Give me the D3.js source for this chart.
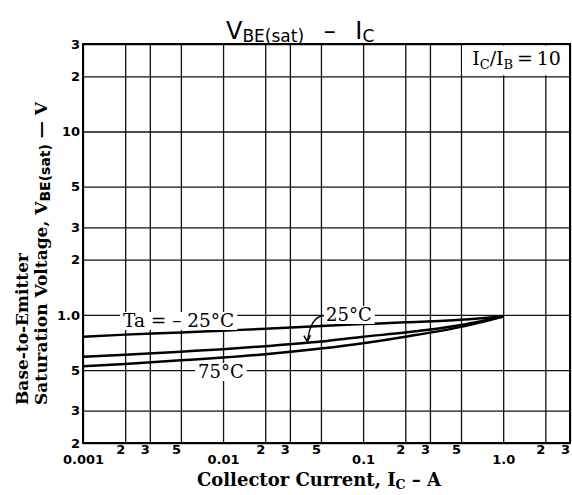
<!DOCTYPE html>
<html><head><meta charset="utf-8">
<script src="https://cdn.jsdelivr.net/npm/d3@7"></script>
<style>
body{margin:0;background:#fff;}
svg{display:block;}
</style></head>
<body>
<script>
// ---- data ----
const collectorCurrent = [0.001, 0.002, 0.005, 0.01, 0.02, 0.05, 0.1, 0.2, 0.5, 1.0];
const vbeMinus25 = [0.76, 0.78, 0.80, 0.82, 0.84, 0.87, 0.89, 0.91, 0.94, 0.98];
const vbe25      = [0.59, 0.605, 0.63, 0.65, 0.675, 0.715, 0.76, 0.80, 0.88, 0.98];
const vbe75      = [0.525, 0.54, 0.565, 0.585, 0.61, 0.655, 0.70, 0.76, 0.86, 0.98];
const seriesNames = ["Ta = \u2013 25\u00b0C", "25\u00b0C", "75\u00b0C"];

const xGridValues = [0.001,0.002,0.003,0.005,0.01,0.02,0.03,0.05,0.1,0.2,0.3,0.5,1,2,3];
const xMajorValues = [0.001, 0.01, 0.1, 1.0];
const xMajorLabels = ["0.001", "0.01", "0.1", "1.0"];
const xMinorValues = [0.002,0.003,0.005,0.02,0.03,0.05,0.2,0.3,0.5,2,3];
const xMinorLabels = ["2","3","5","2","3","5","2","3","5","2","3"];
const yTickValues = [30, 20, 10, 5, 3, 2, 1, 0.5, 0.3, 0.2];
const yTickLabels = ["3", "2", "10", "5", "3", "2", "1.0", "5", "3", "2"];

// ---- layout ----
const W = 572, H = 495;
const L = 83, R = 570, T = 44, B = 443;
const sans = "'DejaVu Sans', sans-serif";
const serif = "'DejaVu Serif', serif";

const svg = d3.select("body").append("svg").attr("width", W).attr("height", H);
const x = d3.scaleLog().domain([0.001, 3]).range([L, R]);
const y = d3.scaleLog().domain([0.2, 30]).range([B, T]);

// grid
const gx = svg.append("g").attr("transform", `translate(0,${B})`)
  .call(d3.axisBottom(x).tickValues(xGridValues).tickSize(-(B - T)).tickFormat(""));
gx.select(".domain").remove();
gx.selectAll("line").attr("stroke", "#111").attr("stroke-width", 1.3);
const gy = svg.append("g").attr("transform", `translate(${L},0)`)
  .call(d3.axisLeft(y).tickValues(yTickValues).tickSize(-(R - L)).tickFormat(""));
gy.select(".domain").remove();
gy.selectAll("line").attr("stroke", "#111").attr("stroke-width", 1.3);

// frame
svg.append("rect").attr("x", L).attr("y", T).attr("width", R - L).attr("height", B - T)
  .attr("fill", "none").attr("stroke", "#000").attr("stroke-width", 2);

// legend box (condition)
svg.append("rect").attr("x", x(0.5) + 1).attr("y", y(30) + 1.5)
  .attr("width", x(3) - x(0.5) - 2.5).attr("height", y(20) - y(30) - 2.5).attr("fill", "#fff");
const cond = svg.append("text").attr("x", (x(0.5) + x(3)) / 2 + 1).attr("y", y(30) + 21)
  .attr("text-anchor", "middle").attr("font-family", serif).attr("font-size", 19).attr("fill", "#000");
cond.append("tspan").text("I");
cond.append("tspan").attr("font-size", 13).attr("dy", 4).text("C");
cond.append("tspan").attr("dy", -4).text("/I");
cond.append("tspan").attr("font-size", 13).attr("dy", 4).text("B");
cond.append("tspan").attr("dy", -4).text("\u2009=\u200910");

// x tick labels
const xl = svg.append("g").attr("transform", `translate(0,${B})`)
  .call(d3.axisBottom(x).tickValues(xMajorValues).tickSize(0).tickPadding(12)
    .tickFormat((d, i) => xMajorLabels[i]));
xl.select(".domain").remove();
xl.selectAll("text").attr("font-family", sans).attr("font-size", 13).attr("font-weight", "bold").attr("fill", "#000");
const xm = svg.append("g").attr("transform", `translate(0,${B})`)
  .call(d3.axisBottom(x).tickValues(xMinorValues).tickSize(0).tickPadding(2)
    .tickFormat((d, i) => xMinorLabels[i]));
xm.select(".domain").remove();
xm.selectAll("text").attr("font-family", sans).attr("font-size", 13).attr("font-weight", "bold")
  .attr("fill", "#000").attr("dx", -5);

// y tick labels
const yl = svg.append("g").attr("transform", `translate(${L},0)`)
  .call(d3.axisLeft(y).tickValues(yTickValues).tickSize(0).tickPadding(3)
    .tickFormat((d, i) => yTickLabels[i]));
yl.select(".domain").remove();
yl.selectAll("text").attr("font-family", sans).attr("font-size", 13).attr("font-weight", "bold").attr("fill", "#000");

// curves
const line = d3.line().x(d => x(d[0])).y(d => y(d[1])).curve(d3.curveMonotoneX);
[vbeMinus25, vbe25, vbe75].forEach(vals => {
  svg.append("path").datum(collectorCurrent.map((c, i) => [c, vals[i]]))
    .attr("d", line).attr("fill", "none").attr("stroke", "#000").attr("stroke-width", 2.5);
});

// curve labels with white backgrounds
function label(txt, px, py, anchor, fs) {
  const g = svg.append("g");
  const t = g.append("text").attr("x", px).attr("y", py).attr("text-anchor", anchor)
    .attr("font-family", serif).attr("font-size", fs).attr("fill", "#000").text(txt);
  const bb = t.node().getBBox();
  g.insert("rect", "text").attr("x", bb.x - 3).attr("y", bb.y + 2).attr("width", bb.width + 6)
    .attr("height", bb.height - 3).attr("fill", "#fff");
  return bb;
}
label(seriesNames[0], 123, 327, "start", 18.5);
const bb25 = label(seriesNames[1], 326, 321, "start", 18);
label(seriesNames[2], 198, 378, "start", 18);

// arrow to 25°C curve
const tipC = 0.04;
const tipV = d3.interpolateNumber(vbe25[4], vbe25[5])((Math.log10(tipC) - Math.log10(0.02)) / (Math.log10(0.05) - Math.log10(0.02)));
const tx = x(tipC), ty = y(tipV);
const sx = bb25.x - 2, sy = bb25.y + bb25.height / 2 + 1;
svg.append("path")
  .attr("d", `M${sx},${sy} Q${tx + 3},${sy + 1} ${tx},${ty - 1}`)
  .attr("fill", "none").attr("stroke", "#000").attr("stroke-width", 1.3);
svg.append("path").attr("d", `M${tx - 3.5},${ty - 7} L${tx},${ty - 1} L${tx + 3},${ty - 7.5}`)
  .attr("fill", "none").attr("stroke", "#000").attr("stroke-width", 1.5);

// title
const title = svg.append("text").attr("x", 226).attr("y", 39).attr("text-anchor", "start")
  .attr("font-family", sans).attr("font-size", 24).attr("fill", "#000");
title.append("tspan").text("V");
title.append("tspan").attr("font-size", 17).attr("dy", 3).text("BE(sat)");
title.append("tspan").attr("dy", -3).text("\u2002\u00a0\u2013\u00a0\u2002I");
title.append("tspan").attr("font-size", 17).attr("dy", 3).text("C");

// x axis title
const xt = svg.append("text").attr("x", 319).attr("y", 486).attr("text-anchor", "middle")
  .attr("font-family", serif).attr("font-size", 18).attr("font-weight", "bold").attr("fill", "#000");
xt.append("tspan").text("Collector Current, I");
xt.append("tspan").attr("font-size", 12.5).attr("dy", 3).text("C");
xt.append("tspan").attr("dy", -3).text(" \u2013 A");

// y axis title
svg.append("text").attr("transform", "translate(28,405) rotate(-90)")
  .attr("font-family", serif).attr("font-size", 17).attr("font-weight", "bold").attr("fill", "#000")
  .text("Base-to-Emitter");
const yt2 = svg.append("text").attr("transform", "translate(47,405) rotate(-90)")
  .attr("font-family", serif).attr("font-size", 17).attr("font-weight", "bold").attr("fill", "#000");
yt2.append("tspan").text("Saturation Voltage, V");
yt2.append("tspan").attr("font-family", sans).attr("font-size", 14).attr("dy", 3).text("BE(sat)");
yt2.append("tspan").attr("dy", -3).text(" \u2014 V");
</script>
</body></html>
